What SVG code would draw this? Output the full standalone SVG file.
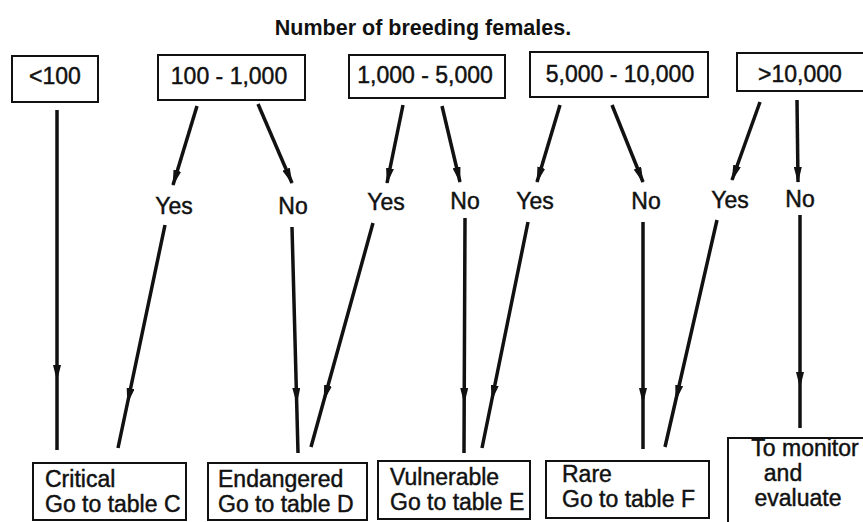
<svg xmlns="http://www.w3.org/2000/svg" width="863" height="522" viewBox="0 0 863 522">
<style>
.box{fill:#fff;stroke:#111;stroke-width:2}
.t{font-family:"Liberation Sans",Arial,sans-serif;font-size:23px;fill:#111;stroke:#111;stroke-width:0.45}
.c{text-anchor:middle}
.ttl{font-family:"Liberation Sans",Arial,sans-serif;font-size:21.5px;font-weight:bold;fill:#111;text-anchor:middle}
.ln{fill:none;stroke:#111;stroke-width:3.5}
.top{marker-end:url(#ah)}
.bot{marker-mid:url(#ah)}
</style>
<defs>
<marker id="ah" markerUnits="userSpaceOnUse" markerWidth="16" markerHeight="8" viewBox="0 0 16 8" refX="15" refY="4" orient="auto">
<path d="M0,0 L16,4 L0,8 z" fill="#111"/>
</marker>
</defs>
<rect width="863" height="522" fill="#fff"/>
<text class="ttl" x="423" y="35">Number of breeding females.</text>

<g id="n_lt100"><rect class="box" x="12" y="56" width="86" height="46"/><text class="t c" x="55" y="84">&lt;100</text></g>
<g id="n_100_1000"><rect class="box" x="158" y="55" width="147" height="45"/><text class="t c" x="229" y="84">100 - 1,000</text></g>
<g id="n_1000_5000"><rect class="box" x="349" y="55" width="156" height="43"/><text class="t c" x="425" y="83">1,000 - 5,000</text></g>
<g id="n_5000_10000"><rect class="box" x="530" y="52" width="178" height="45"/><text class="t c" x="620" y="82">5,000 - 10,000</text></g>
<g id="n_gt10000"><rect class="box" x="737" y="53" width="130" height="38"/><text class="t c" x="800" y="82">&gt;10,000</text></g>

<g id="labels">
<text class="t c" x="174" y="214">Yes</text>
<text class="t c" x="293" y="214">No</text>
<text class="t c" x="386" y="210">Yes</text>
<text class="t c" x="465" y="209">No</text>
<text class="t c" x="535" y="209">Yes</text>
<text class="t c" x="646" y="209">No</text>
<text class="t c" x="730" y="208">Yes</text>
<text class="t c" x="800" y="207">No</text>
</g>

<g id="connectors">
<path class="ln bot" d="M57,110 L57,380 L57,450"/>
<path class="ln top" d="M197,106 L173,185"/>
<path class="ln top" d="M258,104 L292,183"/>
<path class="ln top" d="M403,105 L387,183"/>
<path class="ln top" d="M442,106 L460,182"/>
<path class="ln top" d="M560,105 L537,182"/>
<path class="ln top" d="M612,105 L643,182"/>
<path class="ln top" d="M760,102 L732,180"/>
<path class="ln top" d="M797,100 L798,182"/>
<path class="ln bot" d="M165,225 L127.5,403 L118,448"/>
<path class="ln bot" d="M292,227 L296.7,403 L298,453"/>
<path class="ln bot" d="M373,223 L324,400 L311,447"/>
<path class="ln bot" d="M465,218 L464.2,403 L464,453"/>
<path class="ln bot" d="M528,222 L491.8,400 L482,448"/>
<path class="ln bot" d="M643,222 L643,403 L643,449"/>
<path class="ln bot" d="M717,220 L675.8,400 L665,447"/>
<path class="ln bot" d="M800,215 L800,387 L800,428"/>
</g>

<g id="n_critical"><rect class="box" x="33" y="463" width="153" height="57"/><text class="t" x="45" y="487">Critical</text><text class="t" x="45" y="512">Go to table C</text></g>
<g id="n_endangered"><rect class="box" x="208" y="463" width="159" height="57"/><text class="t" x="218" y="487">Endangered</text><text class="t" x="218" y="512">Go to table D</text></g>
<g id="n_vulnerable"><rect class="box" x="378" y="461" width="152" height="58"/><text class="t" x="390" y="485">Vulnerable</text><text class="t" x="390" y="510">Go to table E</text></g>
<g id="n_rare"><rect class="box" x="546" y="461" width="163" height="57"/><text class="t" x="562" y="482">Rare</text><text class="t" x="562" y="507">Go to table F</text></g>
<g id="n_monitor"><rect class="box" x="728" y="438" width="140" height="90"/><text class="t c" x="805" y="456">To monitor</text><text class="t c" x="783" y="481">and</text><text class="t c" x="798" y="506">evaluate</text></g>
</svg>
